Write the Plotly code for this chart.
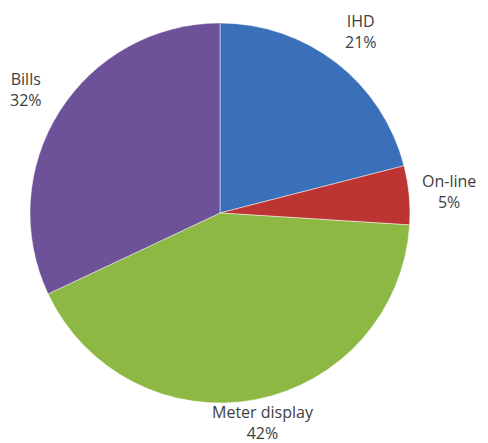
import math
import plotly.graph_objects as go

# Share of respondents by information source
labels = ["IHD", "On-line", "Meter display", "Bills"]
values = [21, 5, 42, 32]
colors = ["#3a70b9", "#bc3532", "#8cb843", "#6d5299"]

W, H = 488, 443
cx, cy, R = 220, 213, 190          # pie centre and radius in pixels (from top-left)

fig = go.Figure(go.Pie(
    labels=labels,
    values=values,
    sort=False,
    direction="clockwise",
    rotation=0,
    marker=dict(colors=colors, line=dict(color="rgba(255,255,255,0.6)", width=0.8)),
    textinfo="none",
    hoverinfo="label+percent",
    domain=dict(x=[(cx - R) / W, (cx + R) / W],
                y=[(H - cy - R) / H, (H - cy + R) / H]),
    showlegend=False,
))

# Category labels placed outside each slice, along its mid-angle,
# kept inside the bottom of the chart area
total = sum(values)
acc = 0
font = dict(family="Open Sans, Lato, sans-serif", size=16, color="#404040")
label_r = R * 1.21
for lab, v in zip(labels, values):
    mid = (acc + v / 2) / total * 2 * math.pi
    acc += v
    dx, dy = math.sin(mid), -math.cos(mid)
    text = f"{lab}<br>{round(v / total * 100)}%"
    px = cx + dx * label_r
    py = min(cy + dy * label_r, H - 21)
    fig.add_annotation(x=px / W, y=1 - py / H, xref="paper", yref="paper",
                       text=text, showarrow=False, font=font,
                       xanchor="center", yanchor="middle", align="center")

fig.update_layout(
    width=W, height=H,
    margin=dict(l=0, r=0, t=0, b=0),
    paper_bgcolor="white",
    plot_bgcolor="white",
)

fig.write_html("out.html")
